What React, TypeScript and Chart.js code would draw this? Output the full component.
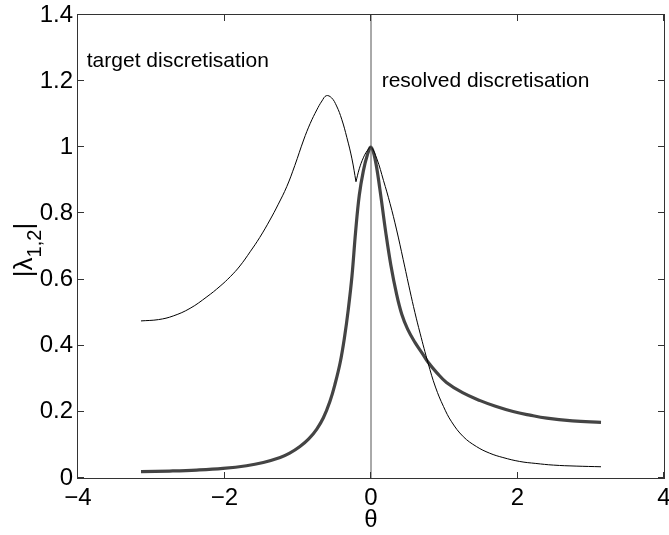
import React, { useEffect, useRef } from 'react';
import { Chart, registerables } from 'chart.js';

Chart.register(...registerables);

const FONT = "'Liberation Sans', Arial, Helvetica, sans-serif";

// target discretisation (thin), split at the cusp
const thetaThinLeft = [-3.14, -2.9, -2.7, -2.47, -2.24, -2.06, -1.92, -1.79, -1.65, -1.52, -1.38, -1.27, -1.15, -1.04, -0.92, -0.83, -0.74, -0.67, -0.61, -0.54, -0.47, -0.4, -0.33, -0.26, -0.205];
const thinLeft = [0.475, 0.479, 0.49, 0.513, 0.548, 0.58, 0.609, 0.641, 0.684, 0.727, 0.78, 0.826, 0.881, 0.945, 1.022, 1.072, 1.113, 1.14, 1.156, 1.15, 1.125, 1.085, 1.03, 0.965, 0.896];
const thetaThinRight = [-0.205, -0.16, -0.105, -0.05, 0, 0.08, 0.17, 0.26, 0.35, 0.44, 0.53, 0.6, 0.67, 0.78, 0.88, 0.99, 1.1, 1.26, 1.44, 1.62, 1.8, 2.03, 2.25, 2.49, 2.8, 3.14];
const thinRight = [0.896, 0.935, 0.968, 0.99, 1.0, 0.965, 0.9, 0.83, 0.75, 0.66, 0.568, 0.5, 0.438, 0.347, 0.275, 0.216, 0.17, 0.125, 0.095, 0.075, 0.062, 0.05, 0.044, 0.039, 0.036, 0.034];

// resolved discretisation (thick)
const thetaThick = [-3.14, -2.75, -2.38, -2.02, -1.7, -1.47, -1.24, -1.11, -0.97, -0.85, -0.74, -0.65, -0.56, -0.49, -0.42, -0.36, -0.31, -0.26, -0.21, -0.16, -0.105, -0.05, 0, 0.055, 0.12, 0.2, 0.27, 0.35, 0.42, 0.5, 0.6, 0.7, 0.78, 0.9, 1.03, 1.25, 1.49, 1.7, 1.94, 2.17, 2.4, 2.75, 3.14];
const thick = [0.019, 0.021, 0.024, 0.029, 0.037, 0.047, 0.062, 0.075, 0.095, 0.118, 0.148, 0.182, 0.232, 0.285, 0.35, 0.428, 0.51, 0.61, 0.745, 0.855, 0.928, 0.977, 1.0, 0.965, 0.875, 0.745, 0.645, 0.555, 0.495, 0.45, 0.41, 0.377, 0.35, 0.318, 0.289, 0.258, 0.234, 0.217, 0.201, 0.19, 0.181, 0.173, 0.168];

// vertical reference line at theta = 0
const vlineTheta = [0, 0];
const vlineVal = [0, 1.4];

const xTickValues = [-4, -2, 0, 2, 4];
const yTickValues = [0, 0.2, 0.4, 0.6, 0.8, 1, 1.2, 1.4];

const annotations = [
  { text: 'target discretisation', x: -3.88, y: 1.244 },
  { text: 'resolved discretisation', x: 0.146, y: 1.183 },
];

const zip = (xs: number[], ys: number[]) => xs.map((x, i) => ({ x, y: ys[i] }));

const fmtX = (v: number) => (v < 0 ? '\u2212' + Math.abs(v) : String(v));
const fmtY = (v: number) => String(Math.round(v * 10) / 10);

const decorPlugin = {
  id: 'decor',
  afterDraw(chart: any) {
    const ctx = chart.ctx as CanvasRenderingContext2D;
    const { left, right, top, bottom } = chart.chartArea;
    const xs = chart.scales.x;
    const ys = chart.scales.y;
    ctx.save();
    // box
    ctx.strokeStyle = '#333';
    ctx.lineWidth = 1;
    ctx.strokeRect(left - 0.5, top - 0.5, right - left + 1, bottom - top + 1);
    // inner ticks
    const tl = 6;
    ctx.beginPath();
    xTickValues.forEach((v) => {
      const px = Math.round(xs.getPixelForValue(v)) - 0.5;
      ctx.moveTo(px, bottom);
      ctx.lineTo(px, bottom - tl);
      ctx.moveTo(px, top);
      ctx.lineTo(px, top + tl);
    });
    yTickValues.forEach((v) => {
      const py = Math.round(ys.getPixelForValue(v)) - 0.5;
      ctx.moveTo(left, py);
      ctx.lineTo(left + tl, py);
      ctx.moveTo(right, py);
      ctx.lineTo(right - tl, py);
    });
    ctx.stroke();

    // annotations
    ctx.fillStyle = '#000';
    ctx.font = `21px ${FONT}`;
    ctx.textAlign = 'left';
    ctx.textBaseline = 'alphabetic';
    annotations.forEach((a) => {
      ctx.fillText(a.text, xs.getPixelForValue(a.x), ys.getPixelForValue(a.y));
    });

    // y-axis title |λ_{1,2}|
    const mainFont = `26px ${FONT}`;
    const subFont = `20px ${FONT}`;
    ctx.font = mainFont;
    const w1 = ctx.measureText('|\u03bb').width;
    const w3 = ctx.measureText('|').width;
    ctx.font = subFont;
    const w2 = ctx.measureText('1,2').width;
    const total = w1 + w2 + w3;
    ctx.translate(32, 250);
    ctx.rotate(-Math.PI / 2);
    let cx = -total / 2;
    ctx.font = mainFont;
    ctx.fillText('|\u03bb', cx, 0);
    cx += w1;
    ctx.font = subFont;
    ctx.fillText('1,2', cx, 9);
    cx += w2;
    ctx.font = mainFont;
    ctx.fillText('|', cx, 0);
    ctx.restore();
  },
};

export default function App() {
  const ref = useRef<HTMLCanvasElement>(null);
  useEffect(() => {
    if (!ref.current) return;
    const chart = new Chart(ref.current, {
      type: 'scatter',
      data: {
        datasets: [
          {
            label: 'axis',
            data: zip(vlineTheta, vlineVal),
            showLine: true,
            borderColor: '#555',
            borderWidth: 1,
            pointRadius: 0,
          },
          {
            label: 'target-left',
            data: zip(thetaThinLeft, thinLeft),
            showLine: true,
            borderColor: '#000',
            borderWidth: 1,
            pointRadius: 0,
            tension: 0.4,
          },
          {
            label: 'target-right',
            data: zip(thetaThinRight, thinRight),
            showLine: true,
            borderColor: '#000',
            borderWidth: 1,
            pointRadius: 0,
            tension: 0.4,
          },
          {
            label: 'resolved',
            data: zip(thetaThick, thick),
            showLine: true,
            borderColor: '#444',
            borderWidth: 3.2,
            pointRadius: 0,
            tension: 0.4,
          },
        ] as any,
      },
      options: {
        animation: false,
        responsive: false,
        events: [],
        layout: { padding: { left: 0, right: 5, top: 15, bottom: 0 } },
        plugins: { legend: { display: false }, tooltip: { enabled: false } },
        scales: {
          x: {
            type: 'linear',
            min: -4,
            max: 4,
            afterBuildTicks: (s: any) => {
              s.ticks = xTickValues.map((v) => ({ value: v }));
            },
            afterFit: (s: any) => {
              s.height = 57;
              s.paddingLeft = 0;
              s.paddingRight = 0;
            },
            grid: { display: false, drawTicks: false },
            border: { display: false },
            ticks: {
              padding: 6,
              color: '#000',
              font: { family: FONT, size: 24 },
              maxRotation: 0,
              autoSkip: false,
              callback: (v: any) => fmtX(Number(v)),
            },
            title: {
              display: true,
              text: '\u03b8',
              color: '#000',
              font: { family: FONT, size: 24 },
              padding: { top: 0, bottom: 0 },
            },
          },
          y: {
            type: 'linear',
            min: 0,
            max: 1.4,
            afterBuildTicks: (s: any) => {
              s.ticks = yTickValues.map((v) => ({ value: v }));
            },
            afterFit: (s: any) => {
              s.width = 78;
              s.paddingTop = 0;
              s.paddingBottom = 0;
            },
            grid: { display: false, drawTicks: false },
            border: { display: false },
            ticks: {
              padding: 5,
              color: '#000',
              font: { family: FONT, size: 24 },
              autoSkip: false,
              callback: (v: any) => fmtY(Number(v)),
            },
          },
        },
      } as any,
      plugins: [decorPlugin],
    });
    return () => chart.destroy();
  }, []);
  return (
    <div style={{ position: 'absolute', left: 0, top: 0, width: 669, height: 535, background: '#fff' }}>
      <canvas ref={ref} width={669} height={535} style={{ display: 'block' }} />
    </div>
  );
}
